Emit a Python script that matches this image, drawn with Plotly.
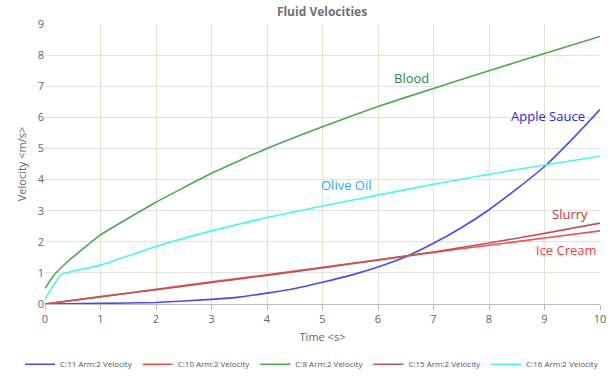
import plotly.graph_objects as go

# Data
time_blue = [0, 1, 2, 3, 3.5, 4, 4.5, 5, 5.5, 6, 6.5, 7, 7.5, 8, 8.5, 9, 9.5, 10]
apple_sauce = [0, 0.02, 0.05, 0.15, 0.22, 0.35, 0.5, 0.7, 0.92, 1.19, 1.52, 1.95, 2.45, 3.03, 3.7, 4.42, 5.3, 6.25]

time_lin = [0, 1, 2, 3, 4, 5, 6, 7, 8, 9, 10]
ice_cream = [0, 0.24, 0.47, 0.71, 0.94, 1.18, 1.42, 1.66, 1.89, 2.12, 2.35]
slurry = [0, 0.23, 0.46, 0.69, 0.92, 1.16, 1.41, 1.67, 1.96, 2.27, 2.6]

time_green = [0, 0.15, 0.4, 1, 2, 3, 4, 5, 6, 7, 8, 9, 10]
blood = [0.5, 0.9, 1.35, 2.22, 3.27, 4.2, 5.0, 5.7, 6.35, 6.93, 7.5, 8.05, 8.6]

time_cyan = [0, 0.3, 1, 2, 3, 4, 5, 6, 7, 8, 9, 10]
olive_oil = [0.15, 0.95, 1.25, 1.85, 2.35, 2.78, 3.15, 3.5, 3.85, 4.17, 4.47, 4.75]

series_names = ["C:11 Arm:2 Velocity", "C:10 Arm:2 Velocity", "C:8 Arm:2 Velocity",
                "C:15 Arm:2 Velocity", "C:16 Arm:2 Velocity"]
series_colors = ["#4a4af0", "#ff4a4a", "#4caa4c", "#b85858", "#4af5f5"]

label_text = ["Blood", "Apple Sauce", "Olive Oil", "Slurry", "Ice Cream"]
label_x = [6.61, 9.06, 5.44, 9.46, 9.39]
label_y = [7.26, 6.03, 3.81, 2.9, 1.74]
label_colors = ["#2f8a2f", "#2828d8", "#2aaaf0", "#c83232", "#ff3a3a"]

x_ticks = list(range(0, 11))
y_ticks = list(range(0, 10))

fig = go.Figure()
xs = [time_blue, time_lin, time_green, time_lin, time_cyan]
ys = [apple_sauce, ice_cream, blood, slurry, olive_oil]
for name, color, x, y in zip(series_names, series_colors, xs, ys):
    fig.add_trace(go.Scatter(x=x, y=y, mode="lines", name=name,
                             line=dict(color=color, width=1.6, shape="spline", smoothing=0.4)))

for t, lx, ly, c in zip(label_text, label_x, label_y, label_colors):
    fig.add_annotation(x=lx, y=ly, text=t, showarrow=False,
                       font=dict(size=13, color=c, family="Open Sans"))

fig.update_layout(
    width=615, height=380,
    margin=dict(l=45, r=15, t=24, b=76, autoexpand=False),
    paper_bgcolor="white", plot_bgcolor="white",
    font=dict(family="Open Sans", color="#666666"),
    title=dict(text="<b>Fluid Velocities</b>", x=322 / 615, xanchor="center",
               y=1 - 12 / 380, yanchor="middle",
               font=dict(size=12, color="#707070", family="Open Sans")),
    xaxis=dict(range=[0, 10], tickvals=x_ticks, showgrid=True, gridcolor="#e4e4d2",
               gridwidth=1, zeroline=False, showline=True, linecolor="#bbbbbb",
               ticks="outside", ticklen=5, tickcolor="#bbbbbb",
               tickfont=dict(size=11, color="#666666"), automargin=False,
               title=dict(text="Time &lt;s&gt;", font=dict(size=11, color="#666666"), standoff=8)),
    yaxis=dict(range=[0, 9], tickvals=y_ticks, showgrid=True, gridcolor="#e2e2e2",
               gridwidth=1, zeroline=False, showline=False,
               tickfont=dict(size=11, color="#666666"), automargin=False,
               title=dict(text="Velocity &lt;m/s&gt;", font=dict(size=11, color="#666666"), standoff=8)),
    legend=dict(orientation="h", x=-0.045, xanchor="left", y=-0.215, yanchor="middle",
                font=dict(size=8, color="#555555"), tracegroupgap=0),
    showlegend=True,
)

fig.write_html("out.html", config={"displayModeBar": False},
               post_script="document.body.style.margin='0';document.body.style.padding='0';")
